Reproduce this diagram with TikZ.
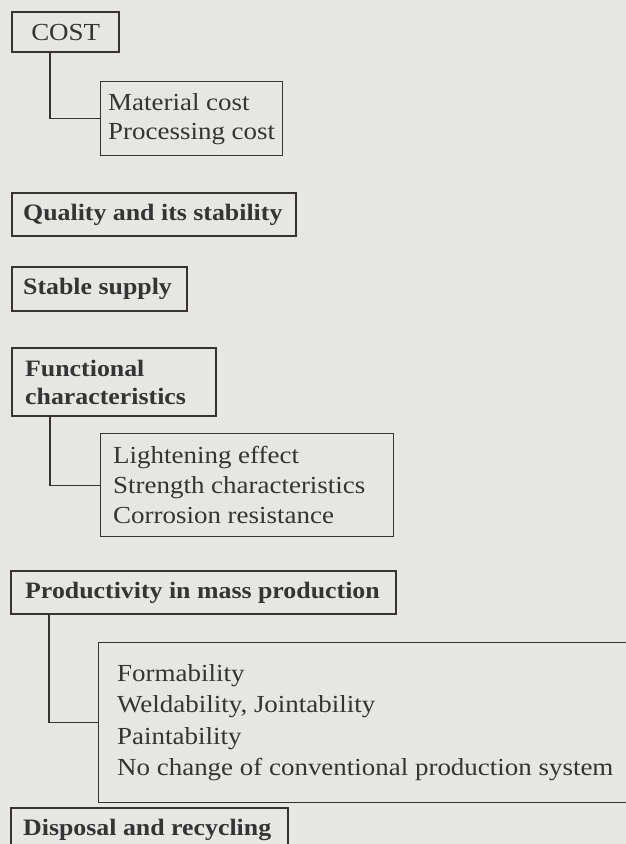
\documentclass[tikz,border=0pt]{standalone}
\usepackage{fontspec}
\setmainfont{Liberation Serif}[FakeStretch=1.1]
\definecolor{bg}{HTML}{E6E6E3}
\definecolor{linec}{HTML}{383232}
\definecolor{txt}{HTML}{353333}
\begin{document}
\begin{tikzpicture}[x=1pt,y=-1pt,
  frameH/.style={draw=linec, line width=2.4pt, inner sep=0pt, anchor=north west},
  frameS/.style={draw=linec, line width=1.3pt, inner sep=0pt, anchor=north west},
  regtxt/.style={anchor=west, align=left, inner sep=0pt, text=txt, font=\fontsize{24.5}{29.5}\selectfont},
  boldtxt/.style={anchor=west, align=left, inner sep=0pt, text=txt, font=\fontsize{23.5}{28}\selectfont\bfseries},
  conn/.style={draw=linec, line width=1.3pt}]
\useasboundingbox (0,0) rectangle (626,844);
\fill[bg] (0,0) rectangle (626,844);
\clip (0,0) rectangle (626,844);

% COST
\node[frameH, minimum width=107pt, minimum height=40pt] (cost) at (11,11) {};
\node[regtxt, anchor=center] (costT) at (cost.center) {COST};
\node[frameS, minimum width=182pt, minimum height=74pt] (mat) at (100,81) {};
\node[regtxt, font=\fontsize{24.5}{29}\selectfont] (matT) at ([xshift=8pt]mat.west) {Material cost\\Processing cost};
\draw[conn] ([xshift=39pt]cost.south west) |- (mat.west);

% Quality
\node[frameH, minimum width=284pt, minimum height=43pt] (qual) at (11,192) {};
\node[boldtxt] (qualT) at ([xshift=12pt]qual.west) {Quality and its stability};

% Stable supply
\node[frameH, minimum width=175pt, minimum height=44pt] (stab) at (11,266) {};
\node[boldtxt] (stabT) at ([xshift=12pt]stab.west) {Stable supply};

% Functional characteristics
\node[frameH, minimum width=204pt, minimum height=68pt] (func) at (11,347) {};
\node[boldtxt] (funcT) at ([xshift=14pt]func.west) {Functional\\characteristics};
\node[frameS, minimum width=293pt, minimum height=103pt] (light) at (100,433) {};
\node[regtxt, font=\fontsize{24.5}{30}\selectfont] (lightT) at ([xshift=13pt]light.west) {Lightening effect\\Strength characteristics\\Corrosion resistance};
\draw[conn] ([xshift=39pt]func.south west) |- (light.west);

% Productivity
\node[frameH, minimum width=385pt, minimum height=43pt] (prod) at (10,570) {};
\node[boldtxt] (prodT) at ([xshift=15pt]prod.west) {Productivity in mass production};
\node[frameS, minimum width=542pt, minimum height=160pt] (form) at (98,642) {};
\node[regtxt, font=\fontsize{24.5}{31.5}\selectfont] (formT) at ([xshift=19pt]form.west) {Formability\\Weldability, Jointability\\Paintability\\No change of conventional production system};
\draw[conn] ([xshift=39pt]prod.south west) |- (form.west);

% Disposal
\node[frameH, minimum width=277pt, minimum height=44pt] (disp) at (10,807) {};
\node[boldtxt] (dispT) at ([xshift=13pt]disp.west) {Disposal and recycling};
\end{tikzpicture}
\end{document}
